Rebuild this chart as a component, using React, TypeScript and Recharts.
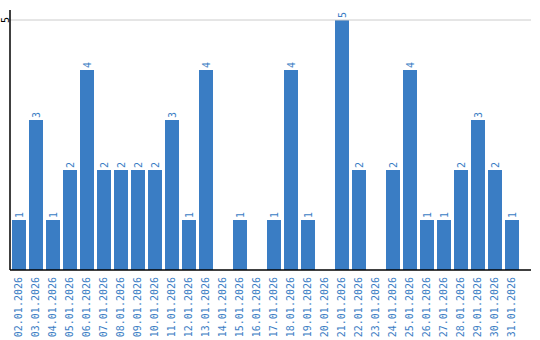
import { BarChart, Bar, XAxis, YAxis, ReferenceLine, LabelList } from 'recharts';

const days = [
  '02.01.2026', '03.01.2026', '04.01.2026', '05.01.2026', '06.01.2026', '07.01.2026',
  '08.01.2026', '09.01.2026', '10.01.2026', '11.01.2026', '12.01.2026', '13.01.2026',
  '14.01.2026', '15.01.2026', '16.01.2026', '17.01.2026', '18.01.2026', '19.01.2026',
  '20.01.2026', '21.01.2026', '22.01.2026', '23.01.2026', '24.01.2026', '25.01.2026',
  '26.01.2026', '27.01.2026', '28.01.2026', '29.01.2026', '30.01.2026', '31.01.2026',
];
const counts = [1, 3, 1, 2, 4, 2, 2, 2, 2, 3, 1, 4, 0, 1, 0, 1, 4, 1, 0, 5, 2, 0, 2, 4, 1, 1, 2, 3, 2, 1];
const yTicks = [5];

const data = days.map((day, i) => ({ day, count: counts[i] }));

const BLUE = '#3a7dc4';
const FONT = '"DejaVu Sans Mono", monospace';

const DayTick = ({ x, y, payload }: any) => (
  <text
    x={x}
    y={y + 7}
    transform={`rotate(-90, ${x}, ${y + 7})`}
    textAnchor="end"
    dominantBaseline="central"
    fill={BLUE}
    fontSize={10}
    fontFamily={FONT}
  >
    {payload.value}
  </text>
);

const CountTick = ({ x, y, payload }: any) => (
  <text
    x={x - 5}
    y={y}
    transform={`rotate(-90, ${x - 5}, ${y})`}
    textAnchor="middle"
    dominantBaseline="central"
    fill="#000"
    fontSize={10}
    fontFamily={FONT}
  >
    {payload.value}
  </text>
);

// nombre au-dessus de chaque barre, tourné comme les dates
const BarValue = ({ x, y, width, value }: any) => {
  if (!value) return null;
  const cx = x + width / 2;
  const cy = y - 2;
  return (
    <text
      x={cx}
      y={cy}
      transform={`rotate(-90, ${cx}, ${cy})`}
      textAnchor="start"
      dominantBaseline="central"
      fill={BLUE}
      fontSize={10}
      fontFamily={FONT}
    >
      {value}
    </text>
  );
};

export default function App() {
  return (
    <div style={{ position: 'absolute', left: 0, top: 0, background: '#fff' }}>
      <BarChart width={540} height={340} data={data} margin={{ top: 10, right: 9, bottom: 0, left: 0 }}>
        <ReferenceLine y={5} stroke="#cccccc" />
        <XAxis
          dataKey="day"
          interval={0}
          height={70}
          tick={<DayTick />}
          tickLine={false}
          tickSize={0}
          tickMargin={0}
          axisLine={{ stroke: '#000', strokeWidth: 1.5 }}
          padding={{ left: 0, right: 11 }}
        />
        <YAxis
          width={10}
          domain={[0, 5.2]}
          ticks={yTicks}
          tick={<CountTick />}
          tickLine={false}
          tickSize={0}
          tickMargin={0}
          axisLine={{ stroke: '#000', strokeWidth: 1.5 }}
        />
        <Bar dataKey="count" fill={BLUE} barSize={14} isAnimationActive={false}>
          <LabelList dataKey="count" content={<BarValue />} />
        </Bar>
      </BarChart>
    </div>
  );
}
